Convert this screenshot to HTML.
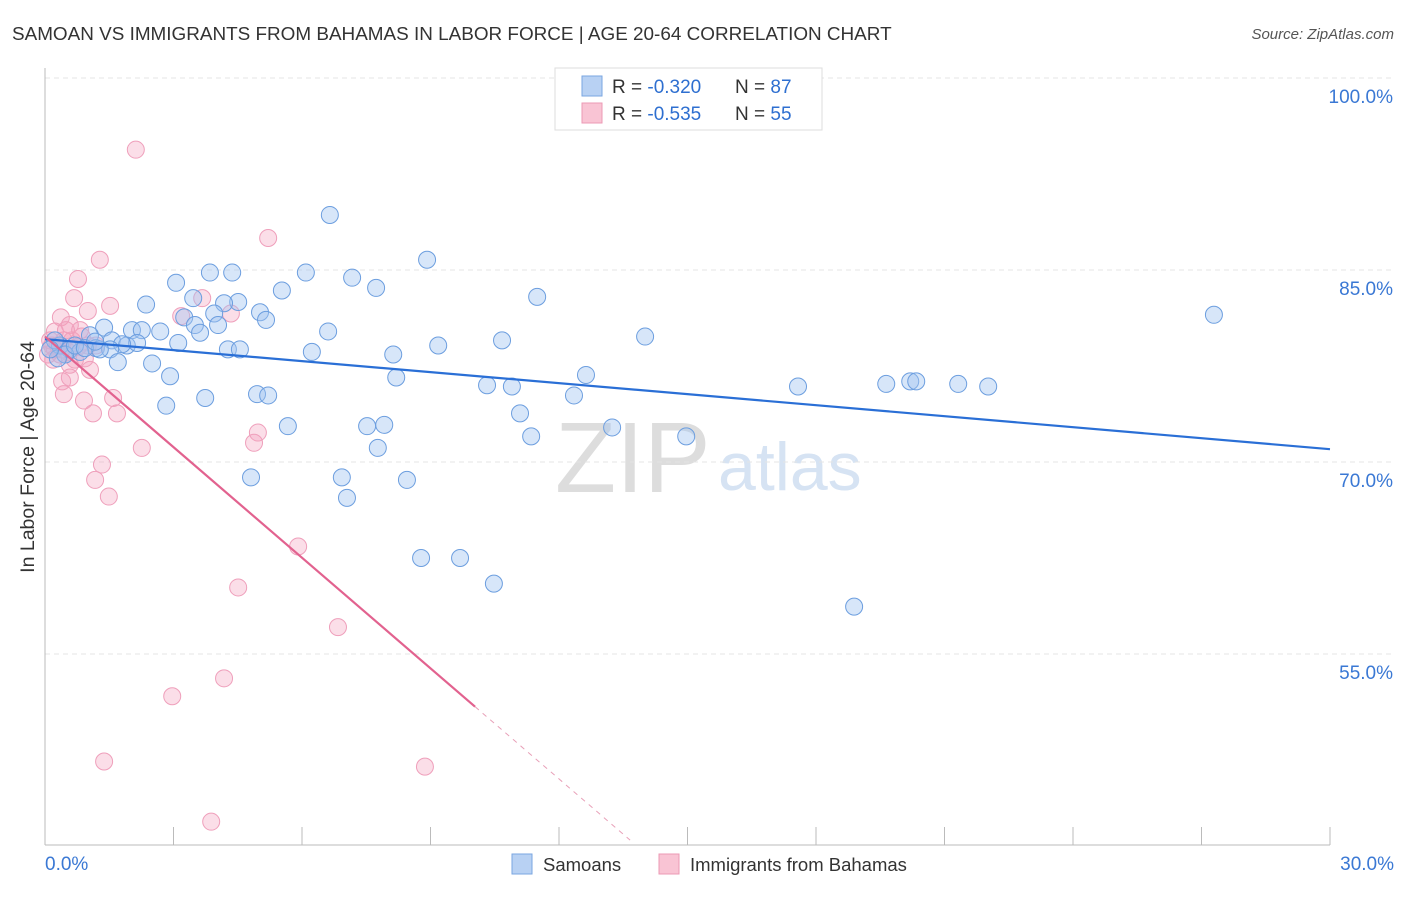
<!DOCTYPE html>
<html><head><meta charset="utf-8"><style>
body{margin:0;background:#fff;font-family:"Liberation Sans",sans-serif;}
svg text{font-family:"Liberation Sans",sans-serif;}
</style></head><body>
<svg id="c" width="1406" height="892">
<text x="12" y="40" font-size="18.9" fill="#333">SAMOAN VS IMMIGRANTS FROM BAHAMAS IN LABOR FORCE | AGE 20-64 CORRELATION CHART</text>
<text x="1394" y="39" font-size="15" fill="#555" text-anchor="end" font-style="italic">Source: ZipAtlas.com</text>
<text x="0" y="0" transform="translate(34,457) rotate(-90)" font-size="19.5" fill="#333" text-anchor="middle">In Labor Force | Age 20-64</text>
<text x="555" y="492" font-size="100" fill="#ddd" font-family="Liberation Serif">ZIP</text>
<text x="718" y="490" font-size="68" fill="#d6e3f3">atlas</text>
<g id="grid"></g><g id="pts"></g><g id="lines"></g>
<g>
<rect x="555" y="68" width="267" height="62" fill="#fff" stroke="#ddd"/>
<rect x="582" y="76" width="20" height="20" fill="#b8d1f3" stroke="#7aa6e0"/>
<rect x="582" y="103" width="20" height="20" fill="#f9c4d4" stroke="#ec9ab5"/>
<text x="612" y="93" font-size="19" fill="#333">R = <tspan fill="#2e6fd0">-0.320</tspan></text>
<text x="735" y="93" font-size="19" fill="#333">N = <tspan fill="#2e6fd0">87</tspan></text>
<text x="612" y="120" font-size="19" fill="#333">R = <tspan fill="#2e6fd0">-0.535</tspan></text>
<text x="735" y="120" font-size="19" fill="#333">N = <tspan fill="#2e6fd0">55</tspan></text>
</g>
<g>
<rect x="512" y="854" width="20" height="20" fill="#b8d1f3" stroke="#7aa6e0"/>
<text x="543" y="871" font-size="18.5" fill="#333">Samoans</text>
<rect x="659" y="854" width="20" height="20" fill="#f9c4d4" stroke="#ec9ab5"/>
<text x="690" y="871" font-size="18.5" fill="#333">Immigrants from Bahamas</text>
</g>
</svg>
<script>
const xTickLabels=["0.0%","30.0%"];
const yTicks=[100,85,70,55];
const yTickLabels=["100.0%","85.0%","70.0%","55.0%"];
const blueX=[6.65,8.92,6.09,3.85,4.37,7.17,7.73,11.49,3.06,5.53,3.46,4.51,4.18,2.36,5.02,3.95,5.16,27.29,3.25,3.50,4.04,6.61,2.03,2.26,2.69,1.38,3.62,1.05,14.01,10.67,3.11,1.56,1.91,2.15,1.80,9.18,1.19,1.52,4.27,4.55,6.23,8.13,2.50,1.70,12.63,2.92,8.20,10.32,10.90,17.58,19.64,20.20,20.34,21.32,22.02,4.95,5.21,3.74,12.35,2.83,11.09,7.52,7.92,5.67,13.24,11.35,14.97,7.77,4.81,6.93,8.45,7.05,8.78,9.69,10.48,18.89,0.35,0.58,0.82,0.23,0.47,0.70,1.28,0.93,0.30,1.17,0.12];
const blueY=[89.3,85.8,84.8,84.8,84.8,84.4,83.6,82.9,84.0,83.4,82.8,82.5,82.4,82.3,81.7,81.6,81.1,81.5,81.3,80.7,80.7,80.2,80.3,80.3,80.2,80.5,80.1,79.9,79.8,79.5,79.3,79.5,79.1,79.3,79.2,79.1,78.9,78.8,78.8,78.8,78.6,78.4,77.7,77.8,76.8,76.7,76.6,76.0,75.9,75.9,76.1,76.3,76.3,76.1,75.9,75.3,75.2,75.0,75.2,74.4,73.8,72.8,72.9,72.8,72.7,72.0,72.0,71.1,68.8,68.8,68.6,67.2,62.5,62.5,60.5,58.7,79.1,78.8,78.6,79.5,78.4,79.1,78.8,78.9,78.1,79.4,78.8];
const pinkX=[2.12,5.21,1.28,0.77,0.68,1.00,1.52,3.67,0.37,4.34,3.18,0.58,0.23,0.86,0.44,1.19,0.16,0.35,0.70,1.05,0.40,0.58,0.44,0.91,1.59,1.12,1.68,4.97,4.88,2.26,1.33,1.17,1.49,5.91,4.51,6.84,4.18,2.97,1.38,8.87,3.88,0.12,0.23,0.54,0.77,0.93,0.07,0.30,0.63,0.49,1.00,0.19,0.82,0.40,0.58];
const pinkY=[94.4,87.5,85.8,84.3,82.8,81.8,82.2,82.8,81.3,81.6,81.4,80.7,80.2,79.8,79.5,79.1,79.1,78.4,78.0,77.2,76.3,76.6,75.3,74.8,75.0,73.8,73.8,72.3,71.5,71.1,69.8,68.6,67.3,63.4,60.2,57.1,53.1,51.7,46.6,46.2,41.9,79.5,78.8,78.6,79.0,78.1,78.4,79.1,79.5,80.3,79.1,78.0,80.3,78.8,77.6];
const blueTrend=[79.6,71.0];
const pinkTrend=[79.8,-2.88];
const NS="http://www.w3.org/2000/svg";
const X0=45,X1=1330,Y0=78,PB=845;
const sx=v=>X0+(v/30)*(X1-X0);
const sy=v=>Y0+(100-v)*12.8;
function mk(tag,attrs,parent){const e=document.createElementNS(NS,tag);for(const k in attrs)e.setAttribute(k,attrs[k]);parent.appendChild(e);return e;}
const grid=document.getElementById('grid'),pts=document.getElementById('pts'),lines=document.getElementById('lines');
yTicks.forEach((t,i)=>{
 const l=mk('line',{x1:X0,x2:1394,y1:sy(t),y2:sy(t),stroke:'#e4e4e4','stroke-dasharray':'5,4'},grid);
 
 
 const tx=mk('text',{x:1393,y:sy(t)+25,'font-size':19,fill:'#3a78d4','text-anchor':'end'},grid);
 tx.textContent=yTickLabels[i];
 
 
});
const ax=mk('line',{x1:X0,x2:X0,y1:68,y2:PB,stroke:'#bbb'},grid);


const bx=mk('line',{x1:X0,x2:X1,y1:PB,y2:PB,stroke:'#bbb'},grid);


for(let k=3;k<=30;k+=3){const t=mk('line',{x1:sx(k),x2:sx(k),y1:827,y2:PB,stroke:'#bbb'},grid);
 
 }
[[0,'start',X0],[30,'end',1394]].forEach((a,i)=>{const t=mk('text',{x:a[2],y:870,'font-size':19,fill:'#3a78d4','text-anchor':a[1]},grid);t.textContent=xTickLabels[i];
 
 });
pinkX.forEach((x,i)=>{const c=mk('circle',{cx:sx(x),cy:sy(pinkY[i]),r:8.5,fill:'rgba(244,160,188,0.35)',stroke:'#ef9fbb','stroke-width':1},pts);
 
 });
blueX.forEach((x,i)=>{const c=mk('circle',{cx:sx(x),cy:sy(blueY[i]),r:8.5,fill:'rgba(160,196,240,0.42)',stroke:'#6c9edf','stroke-width':1},pts);
 
 });
const bl=mk('line',{x1:sx(0),y1:sy(blueTrend[0]),x2:sx(30),y2:sy(blueTrend[1]),stroke:'#2a6fd6','stroke-width':2.2},lines);


const pe=10.04,pd=13.66;
const pl=mk('line',{x1:sx(0),y1:sy(pinkTrend[0]),x2:sx(pe),y2:sy(pinkTrend[0]+pinkTrend[1]*pe),stroke:'#e2628f','stroke-width':2.2},lines);


const pdl=mk('line',{x1:sx(pe),y1:sy(pinkTrend[0]+pinkTrend[1]*pe),x2:sx(pd),y2:sy(pinkTrend[0]+pinkTrend[1]*pd),stroke:'#e8a0b8','stroke-width':1,'stroke-dasharray':'5,5'},lines);


</script>
</body></html>
